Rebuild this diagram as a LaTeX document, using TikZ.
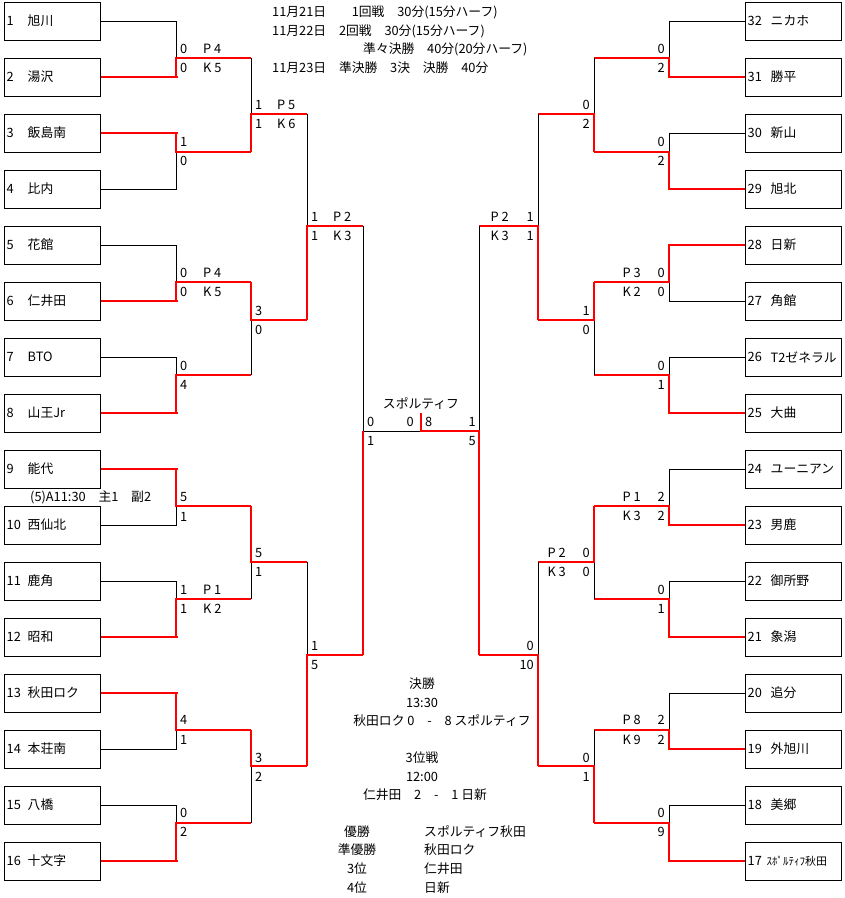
\documentclass[tikz,border=0pt]{standalone}
\usepackage{fontspec}
\setmainfont{Noto Sans CJK JP}
\newcommand\mt[6]{\draw[bk] (#1,#2)--(#1,#3); \draw[rd] (#1,#5)--(#1,#4)--(#6,#4);}
\begin{document}
\begin{tikzpicture}[x=1pt,y=-1pt,
 bk/.style={line width=1pt},
 rd/.style={red,line width=2pt},
 team/.style={draw,line width=1pt,minimum width=96pt,minimum height=38pt,inner sep=0},
 t/.style={font=\fontsize{12.8}{14}\selectfont,inner sep=0},
 lab/.style={t,anchor=west},
 rlab/.style={t,anchor=east}]
\useasboundingbox[fill=white] (0,0) rectangle (845,898);
% teams
\foreach \i/\nm in {1/旭川,2/湯沢,3/飯島南,4/比内,5/花館,6/仁井田,7/BTO,8/山王Jr,9/能代,10/西仙北,11/鹿角,12/昭和,13/秋田ロク,14/本荘南,15/八橋,16/十文字}{
  \node[team] (L\i) at (52,{21+56*(\i-1)}) {};
  \node[lab] (Ln\i) at ([xshift=3pt]L\i.west) {\i};
  \node[lab] (Lt\i) at ([xshift=24pt]L\i.west) {\nm};
}
\foreach \k/\nm in {0/ニカホ,1/勝平,2/新山,3/旭北,4/日新,5/角館,6/T2ゼネラル,7/大曲,8/ユーニアン,9/男鹿,10/御所野,11/象潟,12/追分,13/外旭川,14/美郷}{
  \pgfmathtruncatemacro\n{32-\k}
  \node[team] (R\n) at (793,{21+56*\k}) {};
  \node[lab] (Rn\n) at ([xshift=3pt]R\n.west) {\n};
  \node[lab] (Rt\n) at ([xshift=26pt]R\n.west) {\nm};
}
\node[team] (R17) at (793,861) {};
\node[lab] (Rn17) at ([xshift=3pt]R17.west) {17};
\node[lab,font=\fontsize{11}{12}\selectfont] (Rt17) at ([xshift=22pt]R17.west) {ｽﾎﾟﾙﾃｨﾌ秋田};
% first round inputs
\foreach \i in {1,4,5,7,10,11,14,15} \draw[bk] (L\i.east) -- ++(76,0);
\foreach \i in {2,3,6,8,9,12,13,16} \draw[rd] (L\i.east) -- ++(77,0);
\foreach \i in {32,30,27,26,24,22,20,18} \draw[bk] (R\i.west) -- ++(-76,0);
\foreach \i in {31,29,28,25,23,21,19,17} \draw[rd] (R\i.west) -- ++(-77,0);
% left matches
\mt{176}{21}{77}{58}{77}{251}
\mt{176}{133}{189}{152}{133}{251}
\mt{176}{245}{301}{282}{301}{251}
\mt{176}{357}{413}{375}{413}{251}
\mt{176}{469}{525}{506}{469}{251}
\mt{176}{581}{637}{599}{637}{251}
\mt{176}{693}{749}{730}{693}{251}
\mt{176}{805}{861}{823}{861}{251}
\mt{251}{58}{152}{114}{152}{307}
\mt{251}{282}{375}{320}{282}{307}
\mt{251}{506}{599}{562}{506}{307}
\mt{251}{730}{823}{766}{730}{307}
\mt{307}{114}{320}{226}{320}{363}
\mt{307}{562}{766}{655}{766}{363}
\draw[bk] (363,226)--(363,655);
\draw[bk] (363,431)--(421,431);
\draw[rd] (363,655)--(363,431);
% right matches
\mt{669}{21}{77}{58}{77}{594}
\mt{669}{133}{189}{152}{189}{594}
\mt{669}{245}{301}{282}{245}{594}
\mt{669}{357}{413}{375}{413}{594}
\mt{669}{469}{525}{506}{525}{594}
\mt{669}{581}{637}{599}{637}{594}
\mt{669}{693}{749}{730}{749}{594}
\mt{669}{805}{861}{823}{861}{594}
\mt{594}{58}{152}{114}{152}{538}
\mt{594}{282}{375}{320}{282}{538}
\mt{594}{506}{599}{562}{506}{538}
\mt{594}{730}{823}{766}{823}{538}
\mt{538}{114}{320}{226}{320}{479}
\mt{538}{562}{766}{655}{766}{479}
\draw[bk] (479,226)--(479,655);
\draw[rd] (479,655)--(479,431)--(421,431)--(421,413);
% left labels
\foreach \x/\y/\s in {180/49/0,203/49/P 4,180/68/0,203/68/K 5,180/142/1,180/161/0,
 180/273/0,203/273/P 4,180/292/0,203/292/K 5,180/366/0,180/385/4,180/497/5,180/517/1,
 180/590/1,203/590/P 1,180/609/1,203/609/K 2,180/720/4,180/740/1,180/813/0,180/832/2,
 255/105/1,277/105/P 5,255/124/1,277/124/K 6,255/311/3,255/330/0,255/553/5,255/572/1,
 255/758/3,255/777/2,311/217/1,333/217/P 2,311/236/1,333/236/K 3,311/646/1,311/665/5,
 367/422/0,367/441/1,425/422/8}
 \node[lab] at (\x,\y) {\s};
% right labels
\foreach \x/\y/\s in {665/49/0,665/68/2,665/142/0,665/161/2,665/273/0,641/273/P 3,665/292/0,641/292/K 2,
 665/366/0,665/385/1,665/497/2,641/497/P 1,665/516/2,641/516/K 3,665/590/0,665/609/1,
 665/720/2,641/720/P 8,665/740/2,641/740/K 9,665/813/0,665/832/9,
 590/105/0,590/124/2,590/311/1,590/330/0,590/553/0,566/553/P 2,590/572/0,566/572/K 3,
 590/758/0,590/777/1,534/217/1,509/217/P 2,534/236/1,509/236/K 3,534/646/0,534/665/10,
 414/422/0,476/422/1,476/441/5}
 \node[rlab] at (\x,\y) {\s};
\node[t] (fin) at (421,404) {スポルティフ};
\node[lab] (note) at (30,497) {(5)A11:30　主1　副2};
% schedule
\node[lab] (s1) at (272,12) {11月21日　　1回戦　30分(15分ハーフ)};
\node[lab] (s2) at (272,31) {11月22日　2回戦　30分(15分ハーフ)};
\node[lab] (s3) at (363,49) {準々決勝　40分(20分ハーフ)};
\node[lab] (s4) at (272,68) {11月23日　準決勝　3決　決勝　40分};
% results
\node[t] (f1) at (422,684) {決勝};
\node[t] (f2) at (422,703) {13:30};
\node[t] (f3) at (442,721) {秋田ロク 0　-　8 スポルティフ};
\node[t] (g1) at (422,758) {3位戦};
\node[t] (g2) at (422,777) {12:00};
\node[t] (g3) at (425,795) {仁井田　2　-　1 日新};
\foreach \y/\a/\b in {832/優勝/スポルティフ秋田,850/準優勝/秋田ロク,869/3位/仁井田,888/4位/日新}{
 \node[t] at (357,\y) {\a};
 \node[lab] at (424,\y) {\b};
}
\end{tikzpicture}
\end{document}
